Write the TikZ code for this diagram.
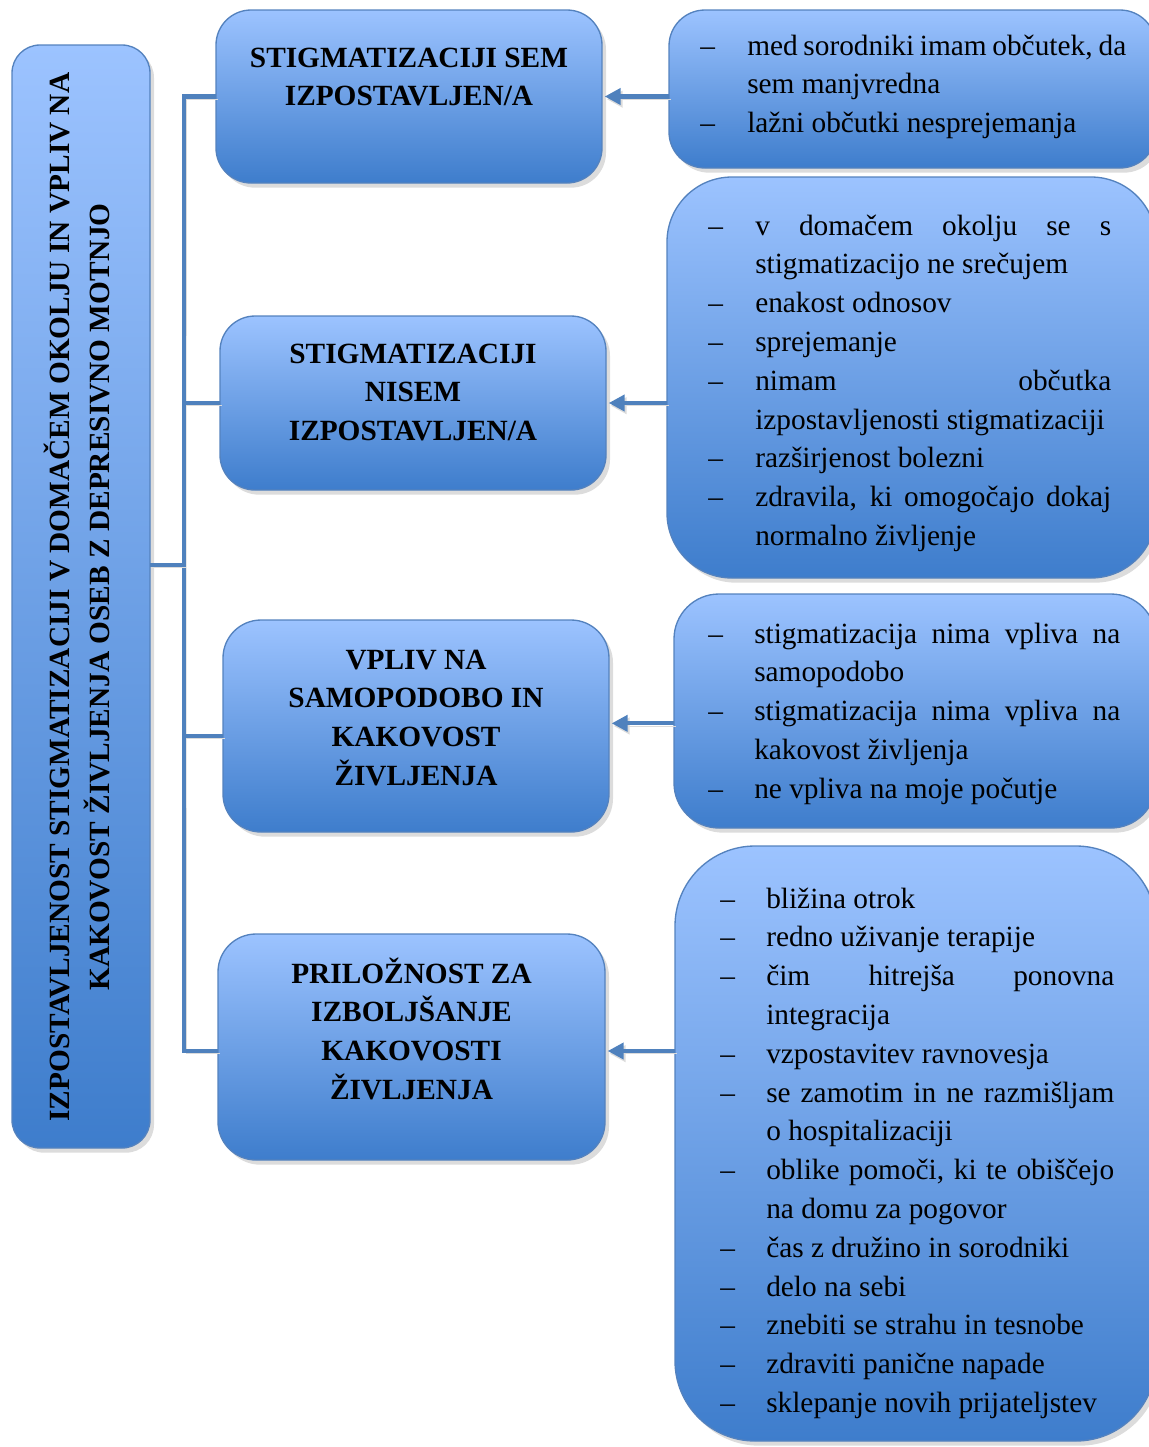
\documentclass[tikz,border=0pt]{standalone}
\usepackage{fontspec}
\setmainfont{Liberation Serif}
\usetikzlibrary{shadows,arrows.meta}

\definecolor{paneltop}{RGB}{156,195,255}
\definecolor{panelbot}{RGB}{62,125,204}
\definecolor{paneledge}{RGB}{84,130,190}
\definecolor{linkblue}{RGB}{79,129,189}

% one drawing unit = one pixel of the layout
\newdimen\px \px=0.75pt
\newdimen\ind
\newdimen\tw

% list helpers: dash + text, continuation line, justified line
\newcommand\dashitem[1]{\makebox[\ind][l]{–}#1}
\newcommand\contline[1]{\hspace*{\ind}#1}
\newcommand\spread[1]{\makebox[\tw][s]{#1}}

\tikzset{
  panel/.style={draw=paneledge, line width=1pt, top color=paneltop,
    bottom color=panelbot, inner sep=0pt, outer sep=0pt, anchor=north west,
    drop shadow={shadow xshift=3pt, shadow yshift=-3.5pt, opacity=0.28}},
  link/.style={draw=linkblue, line width=3.2pt,
    preaction={draw=black!14, transform canvas={shift={(1.5pt,-2pt)}}}},
  pointer/.style={link, -{Triangle[length=12pt,width=12pt]}, shorten >=2pt},
  title/.style={font=\bfseries\fontsize{22}{29.1}\selectfont, inner sep=0pt, anchor=base},
  listtext/.style={font=\fontsize{22}{29.1}\selectfont, inner sep=0pt, anchor=base west},
}

% name, x1, y1, x2, y2, corner radius (all in px)
\newcommand\panelbox[6]{%
  \node[panel, rounded corners=#6*0.75pt, minimum width={(#4-#2)*0.75pt},
    minimum height={(#5-#3)*0.75pt}] (#1) at (#2,#3) {};}

\begin{document}
\begin{tikzpicture}[x=0.75pt, y=-0.75pt]
\useasboundingbox (0,0) rectangle (1149,1447);

% main panel and category panels
\panelbox{L}{12}{45}{150}{1148}{28}
\panelbox{b1}{216}{10}{602}{183}{35}
\panelbox{b2}{220}{316}{606}{490}{35}
\panelbox{b3}{223}{620}{609}{832}{38}
\panelbox{b4}{218}{934}{605}{1160}{38}

% detail panels
\panelbox{r1}{669}{10}{1156}{168}{36}
\panelbox{r2}{667}{177}{1156}{578}{65}
\panelbox{r3}{674}{594}{1156}{828}{45}
\panelbox{r4}{675}{846}{1156}{1441}{80}

% tree connectors
\coordinate (jn) at (184,565);
\draw[link] (b1.west) -| (jn) |- ([yshift=-3pt]b4.west);
\draw[link] (L.east |- jn) -- (jn);
\draw[link] (b2.west -| jn) -- (b2.west);
\draw[link] ([yshift=-7.5pt]b3.west -| jn) -- ([yshift=-7.5pt]b3.west);

% arrows from details to categories
\draw[pointer] (r1.west |- b1.east) -- (b1.east);
\draw[pointer] (r2.west |- b2.east) -- (b2.east);
\draw[pointer] ([yshift=2pt]r3.west |- b3.east) -- ([yshift=2pt]b3.east);
\draw[pointer] ([yshift=-3pt]r4.west |- b4.east) -- ([yshift=-3pt]b4.east);

% main title
\node[rotate=90, align=center, font=\bfseries\fontsize{22}{30}\selectfont, inner sep=0pt] (lt) at (77,597)
  {IZPOSTAVLJENOST STIGMATIZACIJI V DOMAČEM OKOLJU IN VPLIV NA\\KAKOVOST ŽIVLJENJA OSEB Z DEPRESIVNO MOTNJO};

% category titles
\node[title] (t1) at (b1.center |- 0,67) {\parbox[t]{380\px}{\centering STIGMATIZACIJI SEM\\IZPOSTAVLJEN/A}};
\node[title] (t2) at (b2.center |- 0,363) {\parbox[t]{380\px}{\centering STIGMATIZACIJI\\NISEM\\IZPOSTAVLJEN/A}};
\node[title] (t3) at (b3.center |- 0,669) {\parbox[t]{380\px}{\centering VPLIV NA\\SAMOPODOBO IN\\KAKOVOST\\ŽIVLJENJA}};
\node[title] (t4) at (b4.center |- 0,983) {\parbox[t]{380\px}{\centering PRILOŽNOST ZA\\IZBOLJŠANJE\\KAKOVOSTI\\ŽIVLJENJA}};

% detail lists
\node[listtext] (x1) at (700,55) {\ind=47\px \tw=379\px
  \parbox[t]{426\px}{%
  \dashitem{\spread{med sorodniki imam občutek, da}}\\
  \contline{sem manjvredna}\\
  \dashitem{lažni občutki nesprejemanja}}};

\node[listtext] (x2) at (708,235) {\ind=47\px \tw=356\px
  \parbox[t]{403\px}{%
  \dashitem{\spread{v domačem okolju se s}}\\
  \contline{stigmatizacijo ne srečujem}\\
  \dashitem{enakost odnosov}\\
  \dashitem{sprejemanje}\\
  \dashitem{\spread{nimam občutka}}\\
  \contline{izpostavljenosti stigmatizaciji}\\
  \dashitem{razširjenost bolezni}\\
  \dashitem{\spread{zdravila, ki omogočajo dokaj}}\\
  \contline{normalno življenje}}};

\node[listtext] (x3) at (708,643) {\ind=46\px \tw=366\px
  \parbox[t]{412\px}{%
  \dashitem{\spread{stigmatizacija nima vpliva na}}\\
  \contline{samopodobo}\\
  \dashitem{\spread{stigmatizacija nima vpliva na}}\\
  \contline{kakovost življenja}\\
  \dashitem{ne vpliva na moje počutje}}};

\node[listtext] (x4) at (720,908) {\ind=46\px \tw=348\px
  \parbox[t]{394\px}{%
  \dashitem{bližina otrok}\\
  \dashitem{redno uživanje terapije}\\
  \dashitem{\spread{čim hitrejša ponovna}}\\
  \contline{integracija}\\
  \dashitem{vzpostavitev ravnovesja}\\
  \dashitem{\spread{se zamotim in ne razmišljam}}\\
  \contline{o hospitalizaciji}\\
  \dashitem{\spread{oblike pomoči, ki te obiščejo}}\\
  \contline{na domu za pogovor}\\
  \dashitem{čas z družino in sorodniki}\\
  \dashitem{delo na sebi}\\
  \dashitem{znebiti se strahu in tesnobe}\\
  \dashitem{zdraviti panične napade}\\
  \dashitem{sklepanje novih prijateljstev}}};
\end{tikzpicture}
\end{document}
